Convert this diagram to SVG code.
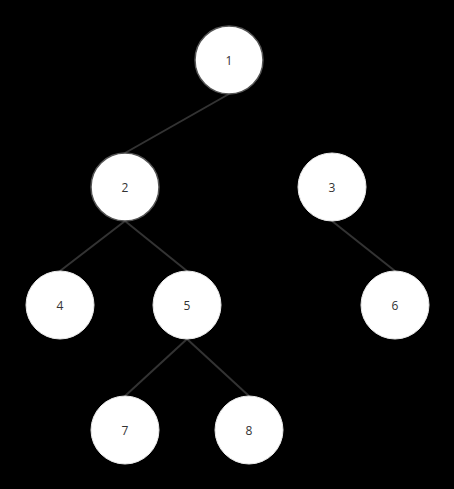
<svg xmlns="http://www.w3.org/2000/svg" width="454" height="489" viewBox="0 0 454 489">
<style>
.n circle{fill:#fff;stroke:#e8e8e8;stroke-width:1}
.n.o circle{stroke:#555;stroke-width:1.5}
.n text{font-family:"Open Sans","Noto Sans",sans-serif;font-size:12px;fill:#333;text-anchor:middle;dominant-baseline:central}
#edges line{stroke:#333;stroke-width:2}
</style>
<rect width="454" height="489" fill="#000"/>
<g id="edges">
<line x1="229" y1="94" x2="125" y2="153"/>
<line x1="125" y1="221" x2="60" y2="271"/>
<line x1="125" y1="221" x2="187" y2="271"/>
<line x1="332" y1="221" x2="395" y2="271"/>
<line x1="187" y1="339" x2="125" y2="396"/>
<line x1="187" y1="339" x2="249" y2="396"/>
</g>
<g id="node1" class="n o"><circle cx="229" cy="60" r="34"/><text x="229" y="60">1</text></g>
<g id="node2" class="n o"><circle cx="125" cy="187" r="34"/><text x="125" y="187">2</text></g>
<g id="node3" class="n"><circle cx="332" cy="187" r="34"/><text x="332" y="187">3</text></g>
<g id="node4" class="n"><circle cx="60" cy="305" r="34"/><text x="60" y="305">4</text></g>
<g id="node5" class="n"><circle cx="187" cy="305" r="34"/><text x="187" y="305">5</text></g>
<g id="node6" class="n"><circle cx="395" cy="305" r="34"/><text x="395" y="305">6</text></g>
<g id="node7" class="n"><circle cx="125" cy="430" r="34"/><text x="125" y="430">7</text></g>
<g id="node8" class="n"><circle cx="249" cy="430" r="34"/><text x="249" y="430">8</text></g>
</svg>
